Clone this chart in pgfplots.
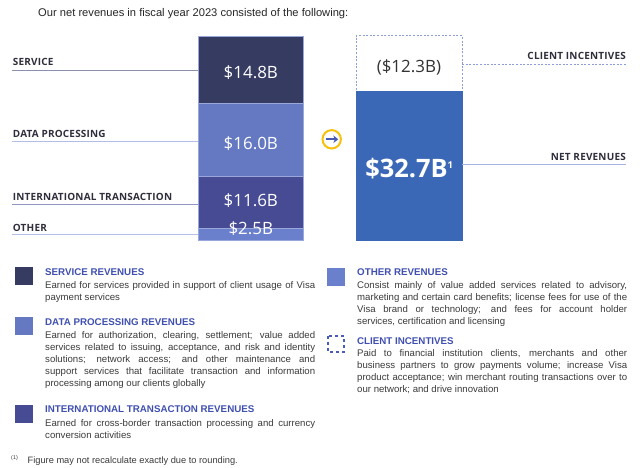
\documentclass[border=0pt]{standalone}
\usepackage{pgfplots}
\pgfplotsset{compat=1.18}
\usetikzlibrary{arrows.meta}
\usepackage{fontspec}
\setmainfont{Liberation Sans}
\newfontfamily\vf{Open Sans}
\newfontfamily\vfb[LetterSpace=2]{Open Sans}
\definecolor{cService}{HTML}{363B62}
\definecolor{cData}{HTML}{6479C2}
\definecolor{cIntl}{HTML}{474B94}
\definecolor{cOther}{HTML}{6B80CC}
\definecolor{cNet}{HTML}{3A68B6}
\definecolor{cTitle}{HTML}{3F4FAF}
\definecolor{cBody}{HTML}{3A3A3A}
\definecolor{cLab}{HTML}{2E2E3C}
\definecolor{cEdge}{HTML}{9AA7DA}
\definecolor{cDash}{HTML}{8E9CDA}
\definecolor{cYellow}{HTML}{F4C20D}
\definecolor{cArrow}{HTML}{4A5BB5}
\definecolor{lS}{HTML}{8A90AE}
\definecolor{lD}{HTML}{B2BCE5}
\definecolor{lI}{HTML}{9095C4}
\definecolor{lO}{HTML}{B6BFE8}
\definecolor{lN}{HTML}{A5B2E2}
\definecolor{lC}{HTML}{4B5CB8}
\pgfplotsset{base/.style={scale only axis, width=640bp, height=468bp,
  xmin=0, xmax=640, ymin=-50.18, ymax=52.82, hide axis,
  at={(0,0)}, anchor=south west, ybar stacked, bar width=105, clip=false}}
\begin{document}
\begin{tikzpicture}
\useasboundingbox (0,0) rectangle (640bp,468bp);
% left stacked bar
\begin{axis}[base]
\addplot[fill=cOther, draw=cEdge, line width=0.6bp] coordinates {(250.8,2.5)};
\addplot[fill=cIntl, draw=cEdge, line width=0.6bp] coordinates {(250.8,11.6)};
\addplot[fill=cData, draw=cEdge, line width=0.6bp] coordinates {(250.8,16.0)};
\addplot[fill=cService, draw=cEdge, line width=0.6bp] coordinates {(250.8,14.8)};
\end{axis}
% right stacked bar
\begin{axis}[base, bar width=106]
\addplot[fill=cNet, draw=cNet, line width=0.6bp] coordinates {(408.9,32.7)};
\addplot[fill=white, draw=cDash, line width=0.8bp, dash pattern=on 2bp off 1.6bp] coordinates {(408.9,12.3)};
\end{axis}
\begin{scope}[shift={(0,468bp)}, x=1bp, y=-1bp,
  lab/.style={font=\vfb\bfseries\fontsize{10}{12}\selectfont, text=cLab, inner sep=0},
  val/.style={font=\vf\fontsize{17}{20}\selectfont, text=white, inner sep=0, anchor=base},
  ttl/.style={font=\bfseries\fontsize{9.8}{11}\selectfont, text=cTitle, inner sep=0, anchor=base west},
  body/.style={font=\fontsize{9.65}{11.9}\selectfont, text=cBody, inner sep=0, anchor=north west, text width=270bp, align=justify}]
% title
\node[anchor=base west, inner sep=0, font=\fontsize{11.2}{13}\selectfont, text=black!85] at (38,17) {Our net revenues in fiscal year 2023 consisted of the following:};
% left labels and lines
\draw[color=lS, line width=1bp] (12,71) -- (198,71);
\draw[color=lD, line width=1bp] (12,141.7) -- (198,141.7);
\draw[color=lI, line width=1bp] (12,205) -- (198,205);
\draw[color=lO, line width=1bp] (12,235) -- (198,235);
\node[lab, anchor=base west] at (12.7,66) {SERVICE};
\node[lab, anchor=base west] at (12.7,137.3) {DATA PROCESSING};
\node[lab, anchor=base west] at (12.7,200.7) {INTERNATIONAL TRANSACTION};
\node[lab, anchor=base west] at (12.7,231.3) {OTHER};
% right labels and lines
\draw[color=cDash, line width=1.1bp, dash pattern=on 2bp off 1.6bp] (462,64.3) -- (626,64.3);
\draw[color=lN, line width=1bp] (462,165) -- (626,165);
\node[lab, anchor=base east] at (626,60) {CLIENT INCENTIVES};
\node[lab, anchor=base east] at (626,160.7) {NET REVENUES};
% value labels
\node[val] at (250.8,78.3) {\$14.8B};
\node[val] at (250.8,149.3) {\$16.0B};
\node[val] at (250.8,206.3) {\$11.6B};
\node[val] at (250.8,234.7) {\$2.5B};
\node[val, text=black!80] at (408.9,72.3) {(\$12.3B)};
\node[anchor=base, inner sep=0, text=white, font=\vf\bfseries\fontsize{25.5}{30}\selectfont] at (409.5,178) {\$32.7B\textsuperscript{\fontsize{9.5}{10}\selectfont 1}};
% arrow circle
\draw[color=cYellow, line width=2bp] (331.7,139.3) circle[radius=9.2];
\draw[color=cArrow, line width=2bp, -{Stealth[length=5bp,width=7.5bp]}] (325.5,139.3) -- (338.3,139.3);
% legend squares
\fill[cService] (15,267) rectangle (33,285);
\fill[cData] (15,317) rectangle (33,335);
\fill[cIntl] (15,405) rectangle (33,423);
\fill[cOther] (327,268) rectangle (345,286);
\draw[color=lC, line width=1.3bp, dash pattern=on 3bp off 3bp] (328,336) rectangle (344,352);
% left column text
\node[ttl] at (45,275.2) {SERVICE REVENUES};
\node[body] at (45,280.1) {\strut Earned for services provided in support of client usage of Visa\linebreak payment services};
\node[ttl] at (45,325.2) {DATA PROCESSING REVENUES};
\node[body] at (45,330.1) {\strut Earned for authorization, clearing, settlement; value added\linebreak services related to issuing, acceptance, and risk and identity\linebreak solutions; network access; and other maintenance and\linebreak support services that facilitate transaction and information\linebreak processing among our clients globally};
\node[ttl] at (45,412.8) {INTERNATIONAL TRANSACTION REVENUES};
\node[body] at (45,417.8) {\strut Earned for cross-border transaction processing and currency\linebreak conversion activities};
% right column text
\node[ttl] at (357,275.2) {OTHER REVENUES};
\node[body] at (357,280.1) {\strut Consist mainly of value added services related to advisory,\linebreak marketing and certain card benefits; license fees for use of the\linebreak Visa brand or technology; and fees for account holder\linebreak services, certification and licensing};
\node[ttl] at (357,344.5) {CLIENT INCENTIVES};
\node[body] at (357,348.1) {\strut Paid to financial institution clients, merchants and other\linebreak business partners to grow payments volume; increase Visa\linebreak product acceptance; win merchant routing transactions over to\linebreak our network; and drive innovation};
% footnote
\node[anchor=base west, inner sep=0, font=\fontsize{5.5}{6}\selectfont, text=cBody] at (11,459.5) {(1)};
\node[anchor=base west, inner sep=0, font=\fontsize{9.3}{11}\selectfont, text=cBody] at (27.5,463.5) {Figure may not recalculate exactly due to rounding.};
\end{scope}
\end{tikzpicture}
\end{document}
